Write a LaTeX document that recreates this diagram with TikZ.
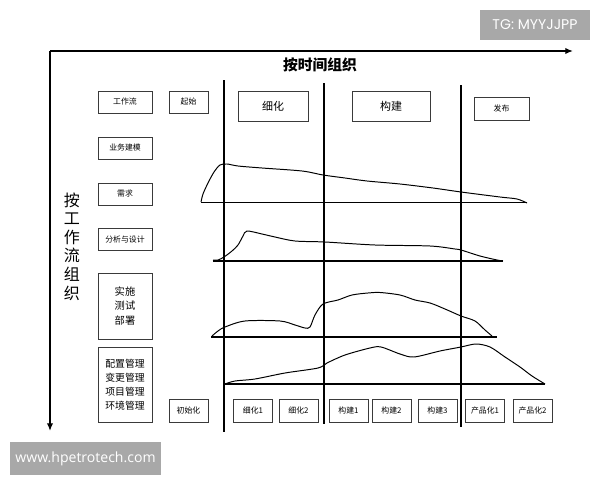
\documentclass[tikz,border=0pt]{standalone}
\usepackage{fontspec}
\usetikzlibrary{arrows.meta}
\newfontfamily\cjk{Noto Sans CJK SC}
\newfontfamily\tgfont{Poppins}
\newfontfamily\wwwfont{Open Sans}
\definecolor{markgray}{HTML}{A8A8A8}
\definecolor{boxline}{HTML}{3A3A3A}

\begin{document}
\begin{tikzpicture}[x=0.025cm, y=-0.025cm, >={Latex[length=5.5pt, width=4.5pt]},
	box/.style 2 args={draw=boxline, line width=0.6pt, inner sep=0pt,
		minimum width=#1*0.025cm, minimum height=#2*0.025cm,
		font=\cjk\fontsize{5.6}{7}\selectfont},
	bigtxt/.style={font=\cjk\fontsize{7.8}{9}\selectfont},
	stacktxt/.style={font=\cjk\fontsize{7.3}{10}\selectfont, align=center},
	phase/.style={line width=1.4pt},
	base/.style={line width=0.9pt},
	load/.style={line width=0.7pt},
	wmark/.style={fill=markgray, text=white, inner sep=0pt}]
	\useasboundingbox (0,0) rectangle (600,480);

	\coordinate (org) at (50,51);
	\coordinate (tend) at (573,51);
	\coordinate (fend) at (50,431);
	\draw[->, line width=1pt] (org) -- (tend);
	\draw[->, line width=1pt] (org) -- (fend);
	\node[font=\cjk\bfseries\fontsize{10.5}{12}\selectfont] (ttl) at (320,65) {按时间组织};
	\node[font=\cjk\fontsize{11.4}{13.2}\selectfont, align=center] (wfl) at (72,246.5) {按\\工\\作\\流\\组\\织};

	\foreach \nm/\y/\txt in {wf/102/工作流, bm/148/业务建模, req/194/需求, ad/239.5/分析与设计}
		\node[box={54}{22}] (\nm) at (125,\y) {\txt};
	\node[box={54}{66}, stacktxt] (impl) at (125,306) {实施\\测试\\部署};
	\node[box={54}{75}, stacktxt, font=\cjk\fontsize{7}{10}\selectfont] (cfg) at (125,384.5) {配置管理\\变更管理\\项目管理\\环境管理};

	\node[box={39}{22}] (start) at (188.5,102) {起始};
	\node[box={70}{30}, bigtxt] (elab) at (273,106) {细化};
	\node[box={78}{30}, bigtxt] (cons) at (391,106) {构建};
	\node[box={55}{23}] (rel) at (501.5,108.5) {发布};

	\foreach \nm/\x/\txt in {it0/188.5/初始化, it1/253/细化1, it2/298.5/细化2, it3/348.5/构建1,
			it4/391.5/构建2, it5/437.5/构建3, it6/485/产品化1, it7/532.5/产品化2}
		\node[box={39}{23}] (\nm) at (\x,410.5) {\txt};

	\foreach \x/\t/\b in {224/80/432, 324/83/424, 461/85/427}
		\draw[phase] (\x,\t) -- (\x,\b);
	\foreach \l/\r/\y in {201/527/202.5, 213/503/261, 211/497/337, 224/545/384}
		\draw[base] (\l,\y) -- (\r,\y);

	\draw[load] plot[smooth, tension=0.5] coordinates {(201,202) (203,194) (208,183) (214,172) (220,165)
		(227,164) (238,166) (262,168) (302,171) (323,175) (345,178) (367,181) (400,184)
		(433,188) (461,192) (500,197) (517,199) (527,203)};
	\draw[load] plot[smooth, tension=0.5] coordinates {(213,260) (218,260) (224,257) (232,251) (238,245)
		(243,236) (247,231) (262,234) (275,237) (295,241) (325,242) (375,245) (430,246)
		(455,249) (461,250) (480,256) (497,260) (503,261)};
	\draw[load] plot[smooth, tension=0.5] coordinates {(212,336) (218,331) (225,327) (245,321) (280,321)
		(295,325) (305,328) (310,327) (315,315) (323,304) (338,300) (352,295) (368,293)
		(380,292.5) (400,295) (415,300) (430,303) (445,309) (461,316) (475,321) (485,330) (492,336)};
	\draw[load] plot[smooth, tension=0.5] coordinates {(225,384) (235,381) (255,379) (285,373) (318,368)
		(327,363) (345,355) (370,348) (381,347) (400,354) (414,357) (440,351) (461,347)
		(476,344) (490,347) (505,357) (520,367) (532,376) (545,384)};

	\node[wmark, minimum width=110*0.025cm, minimum height=30*0.025cm,
		font=\tgfont\fontsize{10}{12}\selectfont] (tg) at (535,25) {TG: MYYJJPP};
	\node[wmark, minimum width=151*0.025cm, minimum height=33*0.025cm,
		font=\wwwfont\fontsize{10}{12}\selectfont] (www) at (85.5,458.5) {www.hpetrotech.com};
\end{tikzpicture}
\end{document}
